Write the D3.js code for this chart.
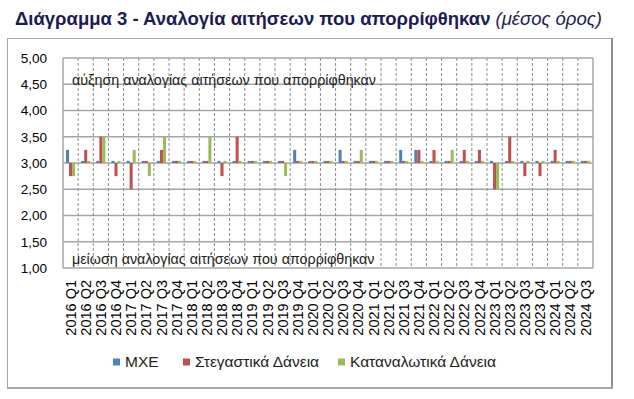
<!DOCTYPE html>
<html>
<head>
<meta charset="utf-8">
<script src="https://cdn.jsdelivr.net/npm/d3@7"></script>
<style>
  body { margin: 0; background: #fff; }
  svg { display: block; }
</style>
</head>
<body>
<div id="chart"></div>
<script>
// τρίμηνα 2016 Q1 - 2024 Q3
const quarters = [
  "2016 Q1","2016 Q2","2016 Q3","2016 Q4",
  "2017 Q1","2017 Q2","2017 Q3","2017 Q4",
  "2018 Q1","2018 Q2","2018 Q3","2018 Q4",
  "2019 Q1","2019 Q2","2019 Q3","2019 Q4",
  "2020 Q1","2020 Q2","2020 Q3","2020 Q4",
  "2021 Q1","2021 Q2","2021 Q3","2021 Q4",
  "2022 Q1","2022 Q2","2022 Q3","2022 Q4",
  "2023 Q1","2023 Q2","2023 Q3","2023 Q4",
  "2024 Q1","2024 Q2","2024 Q3"
];

const mxe = [
  3.25, 3.04, 3.04, 3.04, 3.04, 3.04, 3.04, 3.04,
  3.04, 3.04, 3.04, 3.04, 3.04, 3.04, 3.04, 3.25,
  3.04, 3.04, 3.25, 3.04, 3.04, 3.04, 3.25, 3.25,
  3.04, 3.04, 3.04, 3.04, 3.04, 3.04, 3.04, 3.04,
  3.04, 3.04, 3.04
];

const stegastika = [
  2.75, 3.25, 3.50, 2.75, 2.50, 3.04, 3.25, 3.04,
  3.04, 3.04, 2.75, 3.50, 3.04, 3.04, 3.04, 3.04,
  3.04, 3.04, 3.04, 3.04, 3.04, 3.04, 3.04, 3.25,
  3.25, 3.04, 3.25, 3.25, 2.50, 3.50, 2.75, 2.75,
  3.25, 3.04, 3.04
];

const katanalotika = [
  2.75, 3.04, 3.50, 3.04, 3.25, 2.75, 3.50, 3.04,
  3.04, 3.50, 3.04, 3.04, 3.04, 3.04, 2.75, 3.04,
  3.04, 3.04, 3.04, 3.25, 3.04, 3.04, 3.04, 3.04,
  3.04, 3.25, 3.04, 3.04, 2.50, 3.04, 3.04, 3.04,
  3.04, 3.04, 3.04
];

const seriesNames = ["ΜΧΕ", "Στεγαστικά Δάνεια", "Καταναλωτικά Δάνεια"];
const seriesColors = ["#4f81bd", "#c0504d", "#9bbb59"];
const yTicks = [1, 1.5, 2, 2.5, 3, 3.5, 4, 4.5, 5];
const baseline = 3;

const width = 634, height = 399;
const plot = { left: 63, right: 593, top: 58, bottom: 268 };
const fontFam = "'Liberation Sans', Arial, sans-serif";

const svg = d3.select("#chart").append("svg")
  .attr("width", width)
  .attr("height", height);

// πλαίσιο
svg.append("rect")
  .attr("x", 7.5).attr("y", 38.5)
  .attr("width", 604).attr("height", 349)
  .attr("fill", "#fff")
  .attr("stroke", "#a6a6a6")
  .attr("stroke-width", 1);
svg.append("line")
  .attr("x1", 612).attr("x2", 612).attr("y1", 38).attr("y2", 389)
  .attr("stroke", "#8c8c8c").attr("stroke-width", 2);
svg.append("line")
  .attr("x1", 7).attr("x2", 613).attr("y1", 388).attr("y2", 388)
  .attr("stroke", "#a6a6a6").attr("stroke-width", 2);

// τίτλος
const title = svg.append("text")
  .attr("x", 15).attr("y", 25)
  .style("font-family", fontFam)
  .style("font-size", "18.5px")
  .style("fill", "#1c1c54");
title.append("tspan")
  .style("font-weight", "bold")
  .text("Διάγραμμα 3 - Αναλογία αιτήσεων που απορρίφθηκαν ");
title.append("tspan")
  .style("font-style", "italic")
  .text("(μέσος όρος)");

const x0 = d3.scaleBand()
  .domain(quarters)
  .range([plot.left, plot.right])
  .paddingInner(0.4)
  .paddingOuter(0.2);

const x1 = d3.scaleBand()
  .domain(seriesNames)
  .range([0, x0.bandwidth()]);

const y = d3.scaleLinear()
  .domain([1, 5])
  .range([plot.bottom, plot.top]);

const step = x0.step();

// οριζόντιες γραμμές πλέγματος
svg.append("g")
  .selectAll("line")
  .data(yTicks)
  .enter().append("line")
  .attr("x1", plot.left).attr("x2", plot.right)
  .attr("y1", d => y(d)).attr("y2", d => y(d))
  .attr("stroke", "#a6a6a6")
  .attr("stroke-width", 1.5);

// κάθετες διακεκομμένες γραμμές
svg.append("g")
  .selectAll("line")
  .data(d3.range(quarters.length + 1))
  .enter().append("line")
  .attr("x1", i => plot.left + i * step)
  .attr("x2", i => plot.left + i * step)
  .attr("y1", plot.top).attr("y2", plot.bottom)
  .attr("stroke", i => (i === 0 || i === quarters.length) ? "#a6a6a6" : "#8c8c8c")
  .attr("stroke-width", i => (i === 0 || i === quarters.length) ? 1.5 : 1)
  .attr("stroke-dasharray", i => (i === 0 || i === quarters.length) ? null : "3,2");

// ετικέτες περιοχών
svg.append("text")
  .attr("x", 72).attr("y", 85)
  .text("αύξηση αναλογίας αιτήσεων που απορρίφθηκαν")
  .style("font-family", fontFam)
  .style("font-size", "14.3px")
  .style("fill", "#222");

svg.append("text")
  .attr("x", 72).attr("y", 264)
  .text("μείωση αναλογίας αιτήσεων που απορρίφθηκαν")
  .style("font-family", fontFam)
  .style("font-size", "14.3px")
  .style("fill", "#222");

// ράβδοι
const allSeries = [mxe, stegastika, katanalotika];
const rows = quarters.map((q, i) => ({
  q,
  vals: allSeries.map((s, k) => ({ name: seriesNames[k], color: seriesColors[k], v: s[i] }))
}));

const groups = svg.append("g")
  .selectAll("g")
  .data(rows)
  .enter().append("g")
  .attr("transform", d => `translate(${x0(d.q)},0)`);

groups.selectAll("rect")
  .data(d => d.vals)
  .enter().append("rect")
  .attr("x", d => x1(d.name))
  .attr("width", x1.bandwidth())
  .attr("y", d => Math.min(y(d.v), y(baseline)))
  .attr("height", d => Math.abs(y(d.v) - y(baseline)))
  .attr("fill", d => d.color);

// άξονας y
const yAxis = d3.axisLeft(y)
  .tickValues(yTicks)
  .tickSize(0)
  .tickPadding(16)
  .tickFormat(d => d3.format(".2f")(d).replace(".", ","));

svg.append("g")
  .attr("transform", `translate(${plot.left},0)`)
  .call(yAxis)
  .call(g => g.select(".domain").remove())
  .selectAll("text")
  .style("font-family", fontFam)
  .style("font-size", "13.5px")
  .style("fill", "#000");

// άξονας x
const xAxis = d3.axisBottom(x0).tickSize(0).tickPadding(0);
svg.append("g")
  .attr("transform", `translate(0,${plot.bottom})`)
  .call(xAxis)
  .call(g => g.select(".domain").remove())
  .selectAll("text")
  .attr("transform", "rotate(-90)")
  .attr("x", -12)
  .attr("y", 0)
  .attr("dy", "0.35em")
  .style("text-anchor", "end")
  .style("font-family", fontFam)
  .style("font-size", "14.5px")
  .style("fill", "#000");

// υπόμνημα
const legendX = [113, 183, 338];
const legend = svg.append("g")
  .selectAll("g")
  .data(seriesNames)
  .enter().append("g")
  .attr("transform", (d, i) => `translate(${legendX[i]},362)`);

legend.append("rect")
  .attr("x", 0).attr("y", -3.5)
  .attr("width", 7).attr("height", 7)
  .attr("fill", (d, i) => seriesColors[i]);

legend.append("text")
  .attr("x", 12).attr("dy", "0.35em")
  .text(d => d)
  .style("font-family", fontFam)
  .style("font-size", "15.5px")
  .style("fill", "#222");
</script>
</body>
</html>
